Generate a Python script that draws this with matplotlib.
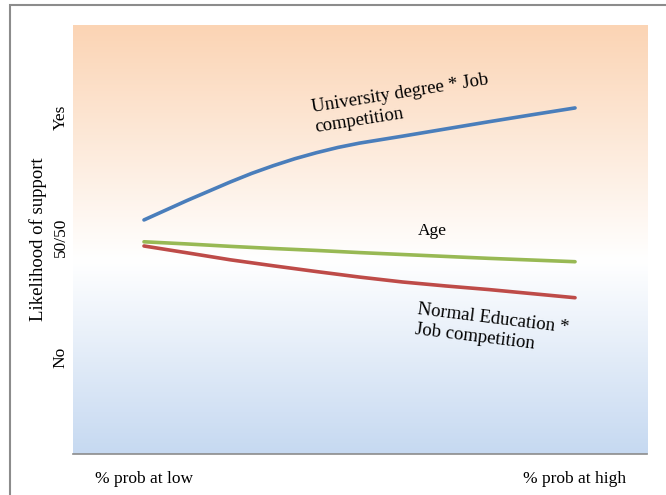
import numpy as np
import matplotlib
matplotlib.use("Agg")
import matplotlib.pyplot as plt
from matplotlib.colors import LinearSegmentedColormap
from matplotlib.patches import Rectangle

plt.rcParams['font.family'] = ['Liberation Serif', 'DejaVu Serif']

# x: 0 = % prob at low, 1 = % prob at high
x = [0.0, 0.1, 0.2, 0.3, 0.4, 0.5, 0.6, 0.7, 0.8, 0.9, 1.0]
x_uni = [0.0, 0.1, 0.2, 0.25, 0.3, 0.35, 0.4, 0.45, 0.5, 0.6, 0.7, 0.8, 0.9, 1.0]
# likelihood of support: 0 = No, 0.5 = 50/50, 1 = Yes
uni_job = [0.571, 0.652, 0.729, 0.765, 0.797, 0.826, 0.851, 0.873, 0.891,
           0.920, 0.950, 0.980, 1.009, 1.0375]
age = [0.480, 0.471, 0.461, 0.452, 0.444, 0.435, 0.427, 0.419, 0.411, 0.404, 0.397]
normal_job = [0.4625, 0.434, 0.405, 0.380, 0.356, 0.333, 0.3125, 0.296, 0.281, 0.264, 0.247]

x_labels = ["% prob at low", "% prob at high"]
y_ticks = [0.0, 0.5, 1.0]
y_labels = ["No", "50/50", "Yes"]

fig = plt.figure(figsize=(6.66, 4.95), dpi=100)
ax = fig.add_axes([0.1096, 0.0828, 0.8619, 0.8667])
ax.set_xlim(-0.1647, 1.167)
ax.set_ylim(-0.404, 1.383)

# gradient background
cmap = LinearSegmentedColormap.from_list(
    "bg", [(0.0, "#c6d9f1"), (0.45, "#ffffff"), (1.0, "#fbd4b4")])
grad = np.linspace(0, 1, 256).reshape(-1, 1)
ax.imshow(grad, cmap=cmap, aspect="auto", origin="lower",
          extent=[-0.1647, 1.167, -0.404, 1.383], zorder=0)

ax.plot(x_uni, uni_job, color="#4a7ebb", lw=2.6, solid_capstyle="round",
        solid_joinstyle="round", zorder=3)
ax.plot(x, age, color="#98b954", lw=2.6, solid_capstyle="round",
        solid_joinstyle="round", zorder=3)
ax.plot(x, normal_job, color="#be4b48", lw=2.6, solid_capstyle="round",
        solid_joinstyle="round", zorder=3)

ax.text(0.385, 1.075, "University degree * Job\ncompetition", fontsize=13.5,
        rotation=9, rotation_mode="anchor", ha="left", va="top",
        linespacing=1.25, zorder=4)
ax.text(0.668, 0.525, "Age", fontsize=12.5, ha="center", va="center", zorder=4)
ax.text(0.636, 0.235, "Normal Education *\nJob competition", fontsize=13.5,
        rotation=-7, rotation_mode="anchor", ha="left", va="top",
        linespacing=1.25, zorder=4)

ax.set_xticks([0, 1])
ax.set_xticklabels(x_labels, fontsize=12.5)
ax.set_yticks(y_ticks)
ax.set_yticklabels(y_labels, fontsize=12.5, rotation=90, va="center")
ax.tick_params(length=0, pad=12)
ax.tick_params(axis="y", pad=3)
ax.set_ylabel("Likelihood of support", fontsize=13.5, labelpad=4)

for s in ["top", "right", "left"]:
    ax.spines[s].set_visible(False)
ax.spines["bottom"].set_color("#8c8c8c")
ax.spines["bottom"].set_linewidth(1.2)

# outer frame
fig.patches.append(Rectangle((10.5 / 666, -0.1), 2, 1.1 - 5.5 / 495,
                             transform=fig.transFigure, fill=False,
                             edgecolor="#8c8c8c", lw=1.5))

fig.savefig("out.png", dpi=100)
